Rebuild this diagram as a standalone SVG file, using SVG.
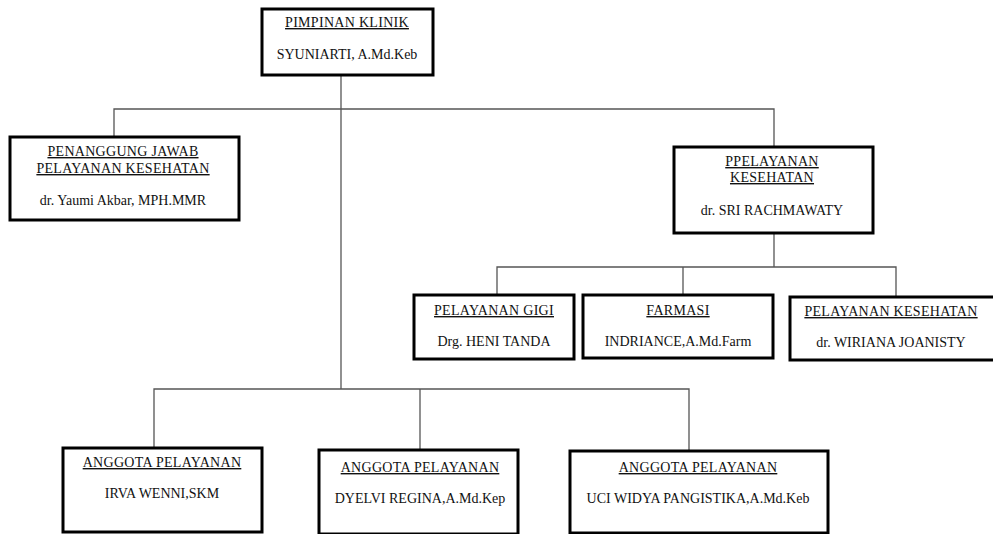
<svg xmlns="http://www.w3.org/2000/svg" width="993" height="534" viewBox="0 0 993 534">
<style>
.box{fill:#fff;stroke:#000;stroke-width:3}
.conn{fill:none;stroke:#555;stroke-width:1.3}
text{font-family:"Liberation Serif","Times New Roman",serif;font-size:14px;fill:#111;text-anchor:middle}
.t{text-decoration:underline;letter-spacing:0.3px}
</style>
<rect width="993" height="534" fill="#fff"/>
<g id="connectors">
<path class="conn" d="M341 75V389"/>
<path class="conn" d="M114 137V109H774V147"/>
<path class="conn" d="M774 233V267"/>
<path class="conn" d="M497 295V267H896V297"/>
<path class="conn" d="M683 267V295"/>
<path class="conn" d="M154 448V389H689V451"/>
<path class="conn" d="M420 389V450"/>
</g>
<g id="pimpinan">
<rect class="box" x="262" y="9" width="171" height="66"/>
<text class="t" x="347" y="27">PIMPINAN KLINIK</text>
<text x="347" y="59">SYUNIARTI, A.Md.Keb</text>
</g>
<g id="penanggung">
<rect class="box" x="10" y="137" width="229" height="83"/>
<text class="t" x="123" y="156">PENANGGUNG JAWAB</text>
<text class="t" x="123" y="173">PELAYANAN KESEHATAN</text>
<text x="123" y="205">dr. Yaumi Akbar, MPH.MMR</text>
</g>
<g id="ppelayanan">
<rect class="box" x="674" y="147" width="199" height="86"/>
<text class="t" x="772" y="166">PPELAYANAN</text>
<text class="t" x="772" y="182">KESEHATAN</text>
<text x="772" y="215">dr. SRI RACHMAWATY</text>
</g>
<g id="gigi">
<rect class="box" x="414" y="295" width="160" height="64"/>
<text class="t" x="494" y="315">PELAYANAN GIGI</text>
<text x="494" y="346">Drg. HENI TANDA</text>
</g>
<g id="farmasi">
<rect class="box" x="583" y="295" width="190" height="63"/>
<text class="t" x="678" y="315">FARMASI</text>
<text x="678" y="346">INDRIANCE,A.Md.Farm</text>
</g>
<g id="pelkes">
<rect class="box" x="790" y="297" width="206" height="63"/>
<text class="t" x="891" y="316">PELAYANAN KESEHATAN</text>
<text x="891" y="347">dr. WIRIANA JOANISTY</text>
</g>
<g id="anggota1">
<rect class="box" x="63" y="448" width="199" height="84"/>
<text class="t" x="162" y="467">ANGGOTA PELAYANAN</text>
<text x="162" y="498">IRVA WENNI,SKM</text>
</g>
<g id="anggota2">
<rect class="box" x="319" y="450" width="199" height="84"/>
<text class="t" x="420" y="472">ANGGOTA PELAYANAN</text>
<text x="420" y="503">DYELVI REGINA,A.Md.Kep</text>
</g>
<g id="anggota3">
<rect class="box" x="570" y="451" width="258" height="82"/>
<text class="t" x="698" y="472">ANGGOTA PELAYANAN</text>
<text x="698" y="503">UCI WIDYA PANGISTIKA,A.Md.Keb</text>
</g>
</svg>
